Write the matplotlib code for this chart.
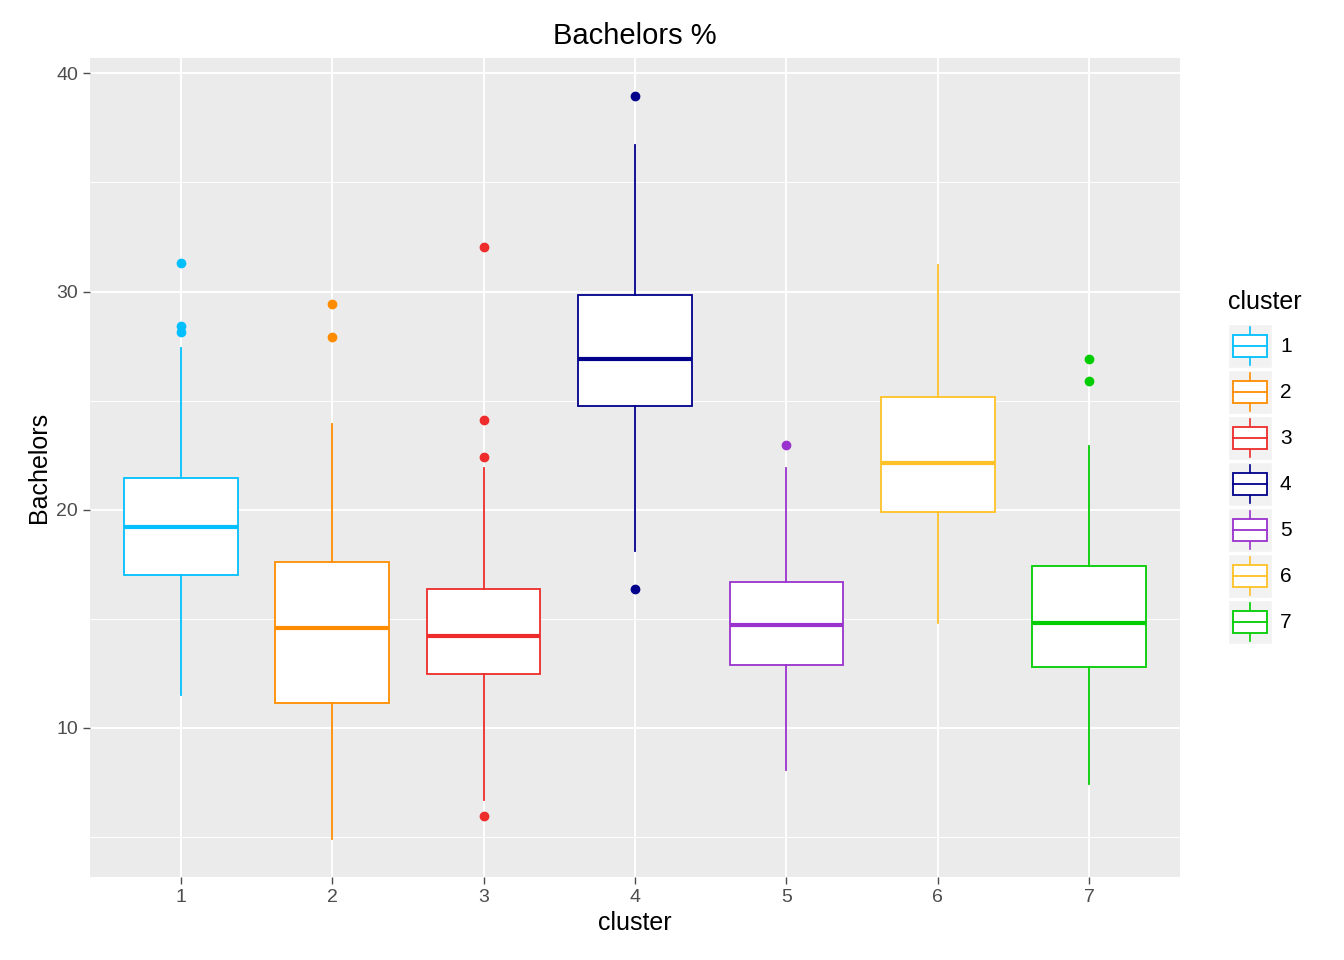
import matplotlib.pyplot as plt
from matplotlib.patches import Rectangle

plt.rcParams['font.family'] = ['Liberation Sans', 'DejaVu Sans']

clusters = ["1", "2", "3", "4", "5", "6", "7"]
colors = ["#00BFFF", "#FF8C00", "#EE2C2C", "#00008B", "#9A32CD", "#FFC125", "#00CD00"]
q1 = [17.0, 11.15, 12.45, 24.75, 12.9, 19.9, 12.8]
med = [19.2, 14.6, 14.2, 26.9, 14.7, 22.15, 14.8]
q3 = [21.47, 17.6, 16.35, 29.85, 16.7, 25.15, 17.4]
wlo = [11.5, 4.9, 6.7, 18.1, 8.05, 14.8, 7.45]
whi = [27.4, 23.95, 21.9, 36.7, 21.9, 31.2, 22.9]
outliers = [[31.3, 28.4, 28.15], [29.45, 27.9], [32.05, 24.1, 22.4, 5.98],
            [38.95, 16.35], [22.95], [], [26.9, 25.9]]

fig = plt.figure(figsize=(13.44, 9.6), dpi=100)
ax = fig.add_axes([0.067, 0.0865, 0.811, 0.853])
ax.set_facecolor("#EBEBEB")
for s in ax.spines.values():
    s.set_visible(False)
for y in [5, 15, 25, 35]:
    ax.axhline(y, color="white", lw=0.7, zorder=0)
for y in [10, 20, 30, 40]:
    ax.axhline(y, color="white", lw=1.4, zorder=0)
for x in range(1, 8):
    ax.axvline(x, color="white", lw=1.4, zorder=0)

for i in range(7):
    c = colors[i]
    st = dict(med=med[i], q1=q1[i], q3=q3[i], whislo=wlo[i], whishi=whi[i], fliers=outliers[i])
    ax.bxp([st], positions=[i + 1], widths=0.75, patch_artist=True,
           boxprops=dict(facecolor="white", edgecolor=c, lw=1.3),
           medianprops=dict(color=c, lw=3),
           whiskerprops=dict(color=c, lw=1.3),
           capprops=dict(visible=False),
           flierprops=dict(marker="o", markerfacecolor=c, markeredgecolor=c, markersize=6),
           zorder=2)

ax.set_xlim(0.4, 7.6)
ax.set_ylim(3.17, 40.7)
ax.set_xticks(range(1, 8))
ax.set_xticklabels(clusters)
ax.set_yticks([10, 20, 30, 40])
ax.tick_params(colors="#4D4D4D", labelsize=14, length=5, width=1)
for t in ax.get_xticklabels() + ax.get_yticklabels():
    t.set_color("#4D4D4D")
ax.set_xlabel("cluster", fontsize=18)
ax.set_ylabel("Bachelors", fontsize=18)
ax.set_title("Bachelors %", fontsize=21, pad=10)

# legend
lax = fig.add_axes([0, 0, 1, 1], facecolor="none")
lax.set_xlim(0, 1344)
lax.set_ylim(960, 0)
lax.axis("off")
lax.text(1228, 302, "cluster", fontsize=18, va="center", ha="left")
for i, c in enumerate(colors):
    yc = 346 + i * 46
    lax.add_patch(Rectangle((1228, yc - 22), 44, 44, facecolor="#F2F2F2", edgecolor="white", lw=1, zorder=1))
    lax.plot([1250, 1250], [yc - 19, yc + 19], color=c, lw=1.2, zorder=2)
    lax.add_patch(Rectangle((1233, yc - 11), 34, 22, facecolor="white", edgecolor=c, lw=1.3, zorder=3))
    lax.plot([1233, 1267], [yc, yc], color=c, lw=1.3, zorder=4)
    lax.text(1280, yc, clusters[i], fontsize=15, va="center", ha="left")

fig.savefig("out.png", dpi=100)
